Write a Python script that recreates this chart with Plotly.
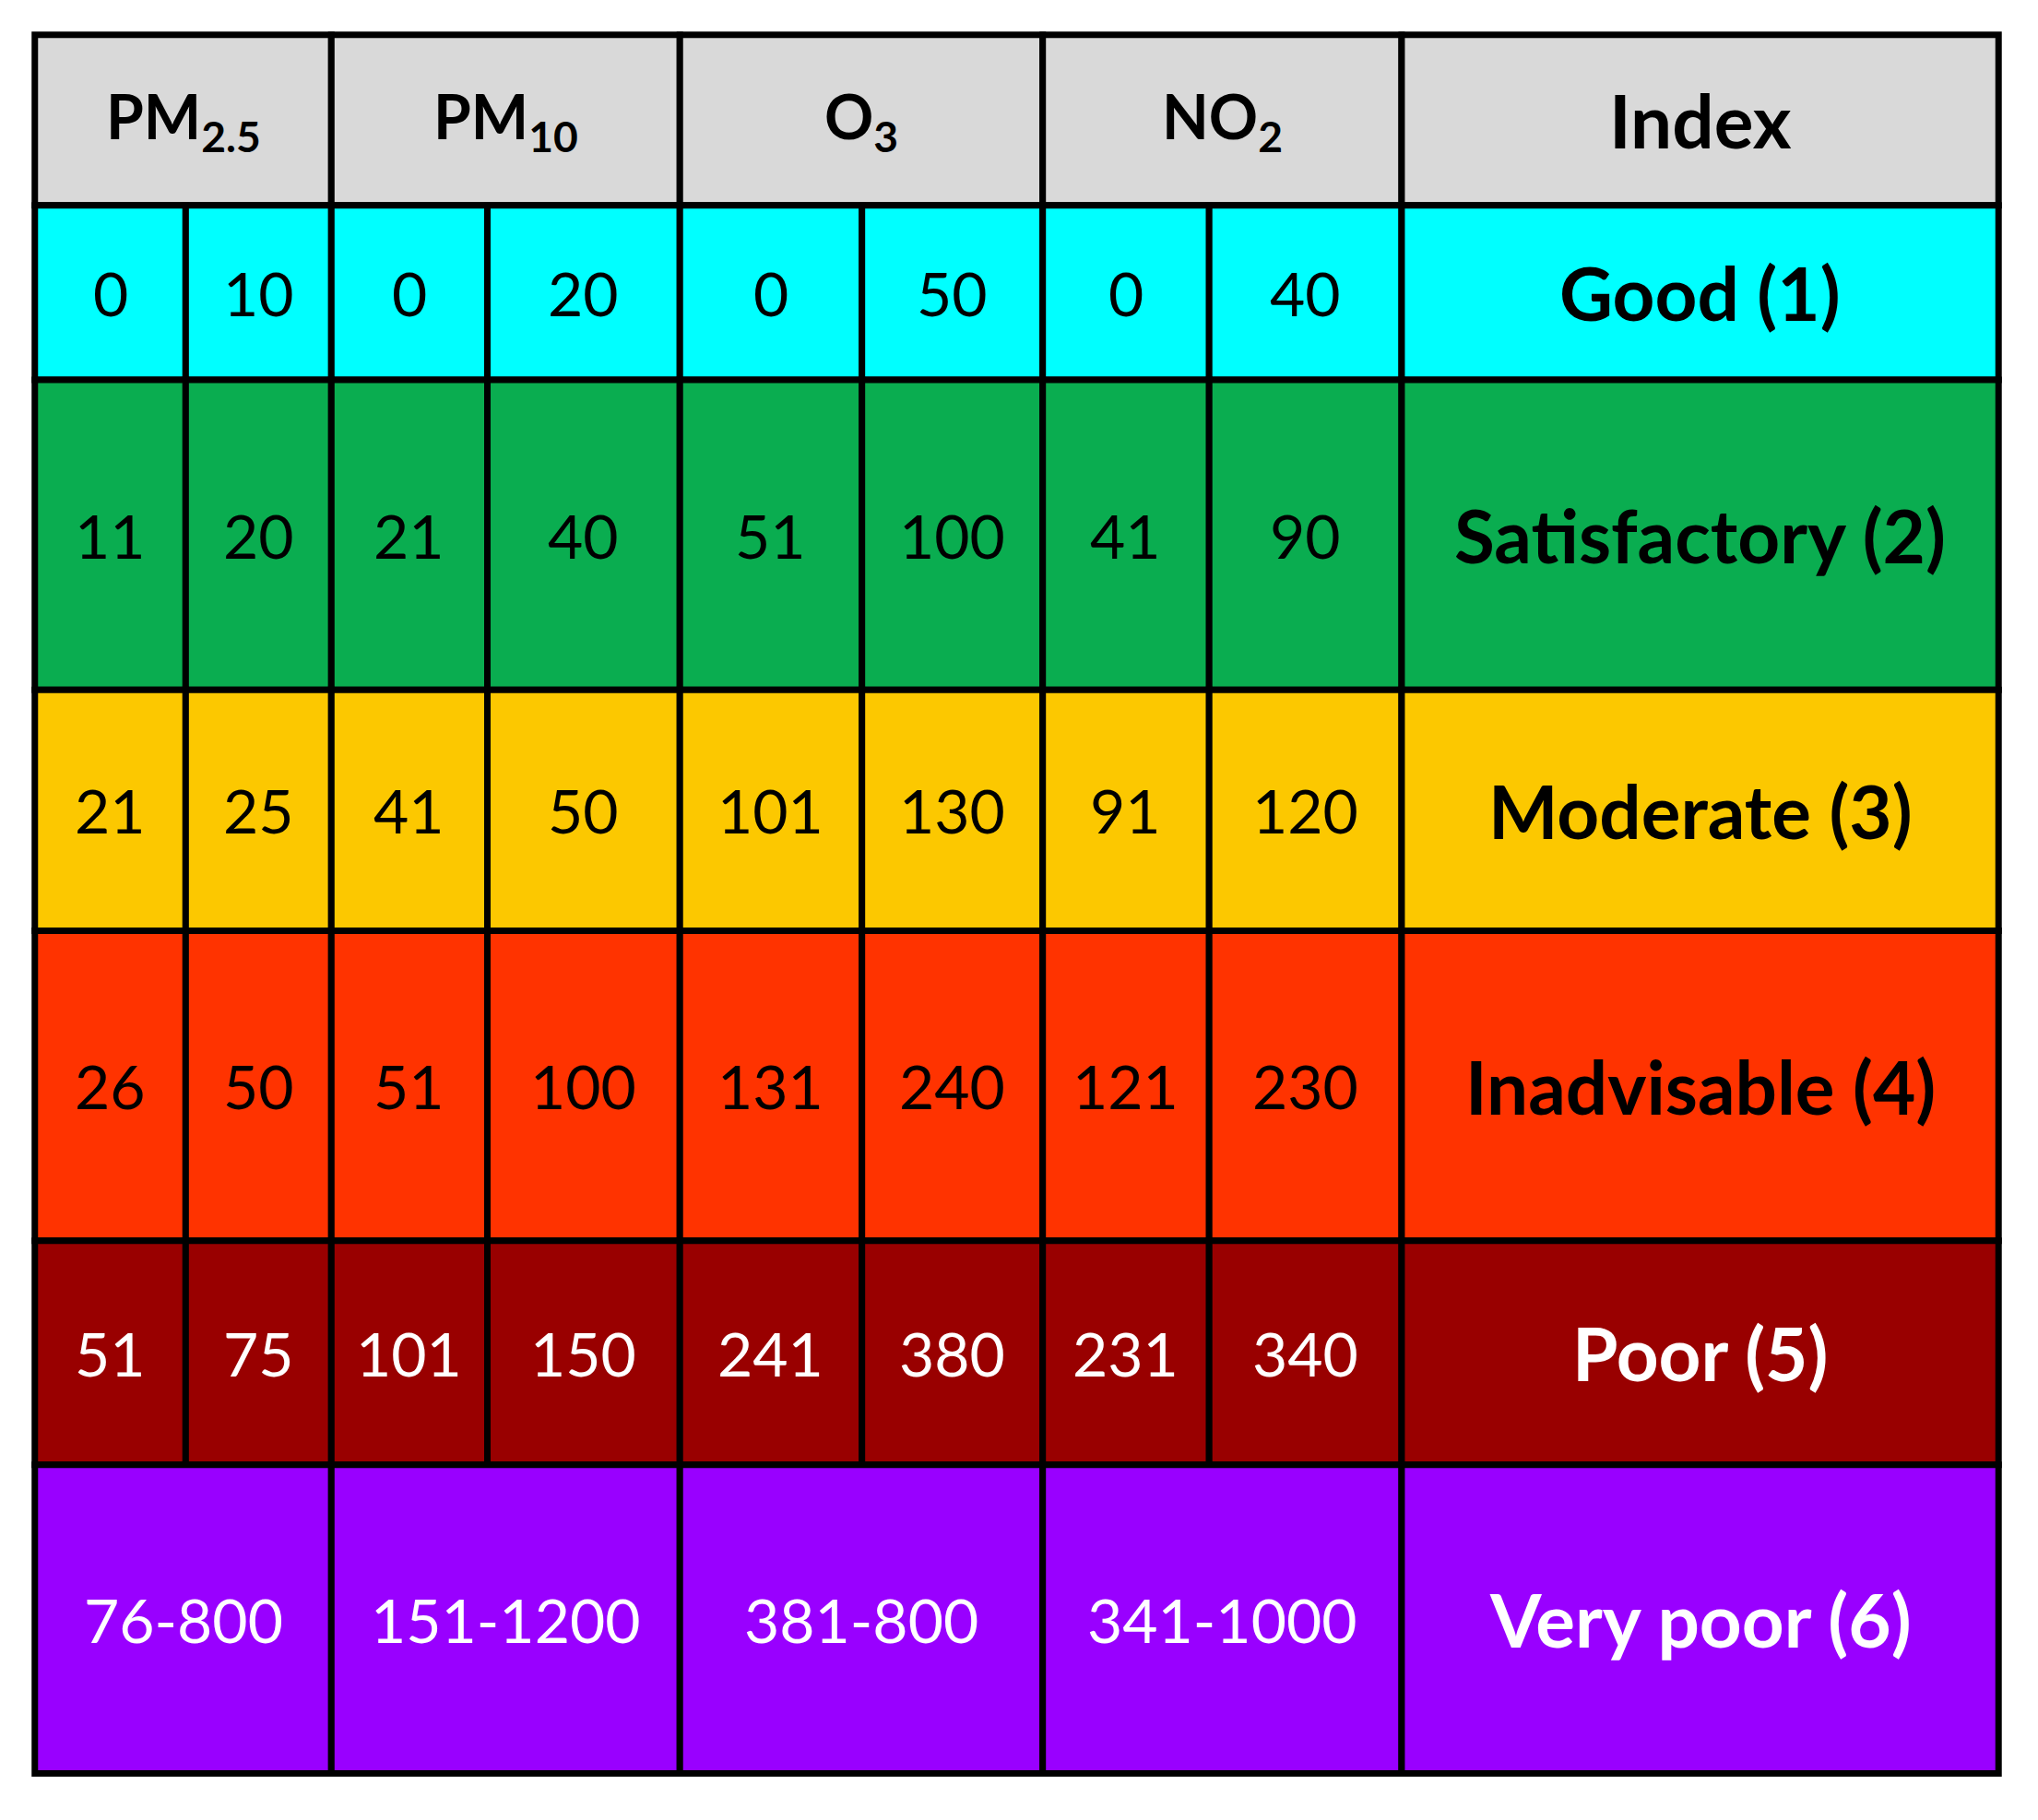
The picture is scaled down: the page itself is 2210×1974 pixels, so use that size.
import plotly.graph_objects as go

# header and row data
pollutants = ["PM<sub>2.5</sub>", "PM<sub>10</sub>", "O<sub>3</sub>", "NO<sub>2</sub>"]
index_labels = ["Good (1)", "Satisfactory (2)", "Moderate (3)", "Inadvisable (4)", "Poor (5)", "Very poor (6)"]
row_colors = ["#00FFFF", "#0AAD50", "#FCC800", "#FF3300", "#990000", "#9900FF"]
row_text_colors = ["black", "black", "black", "black", "white", "white"]
pm25 = [(0, 10), (11, 20), (21, 25), (26, 50), (51, 75)]
pm10 = [(0, 20), (21, 40), (41, 50), (51, 100), (101, 150)]
o3 = [(0, 50), (51, 100), (101, 130), (131, 240), (241, 380)]
no2 = [(0, 40), (41, 90), (91, 120), (121, 230), (231, 340)]
very_poor = ["76-800", "151-1200", "381-800", "341-1000"]

# layout grid (in reference pixel units)
col_edges = [27, 143, 255, 375, 523, 663, 802, 930, 1078, 1537]
row_edges = [27, 158, 292, 530, 715, 953, 1125, 1362]
W, H = 2210, 1974
FONT = "Lato"
FS = 66
FS_INDEX = 80

fig = go.Figure()
shapes, annos = [], []

def cell(x0, x1, y0, y1, fill, text, color="black", bold=False, size=FS):
    shapes.append(dict(type="rect", xref="x", yref="y", x0=x0, x1=x1, y0=y0, y1=y1,
                       fillcolor=fill, line=dict(color="black", width=7), layer="below"))
    annos.append(dict(x=(x0 + x1) / 2, y=(y0 + y1) / 2, xref="x", yref="y", showarrow=False,
                      text=f"<b>{text}</b>" if bold else text,
                      font=dict(family=FONT, size=size, color=color)))

# header
for i, p in enumerate(pollutants):
    cell(col_edges[2 * i], col_edges[2 * i + 2], row_edges[0], row_edges[1], "#D9D9D9", p, bold=True)
cell(col_edges[8], col_edges[9], row_edges[0], row_edges[1], "#D9D9D9", "Index", bold=True, size=FS_INDEX)

series = [pm25, pm10, o3, no2]
for r in range(5):
    y0, y1 = row_edges[r + 1], row_edges[r + 2]
    for i, s in enumerate(series):
        lo, hi = s[r]
        cell(col_edges[2 * i], col_edges[2 * i + 1], y0, y1, row_colors[r], str(lo), row_text_colors[r])
        cell(col_edges[2 * i + 1], col_edges[2 * i + 2], y0, y1, row_colors[r], str(hi), row_text_colors[r])
    cell(col_edges[8], col_edges[9], y0, y1, row_colors[r], index_labels[r], row_text_colors[r],
         bold=True, size=FS_INDEX)

y0, y1 = row_edges[6], row_edges[7]
for i, v in enumerate(very_poor):
    cell(col_edges[2 * i], col_edges[2 * i + 2], y0, y1, row_colors[5], v, row_text_colors[5])
cell(col_edges[8], col_edges[9], y0, y1, row_colors[5], index_labels[5], row_text_colors[5],
     bold=True, size=FS_INDEX)

fig.update_layout(
    width=W, height=H, margin=dict(l=0, r=0, t=0, b=0),
    plot_bgcolor="white", paper_bgcolor="white",
    shapes=shapes, annotations=annos, showlegend=False,
    xaxis=dict(range=[5.9, 1573], visible=False, fixedrange=True),
    yaxis=dict(range=[1403.5, 5.9], visible=False, fixedrange=True),
)
fig.write_html("out.html")
